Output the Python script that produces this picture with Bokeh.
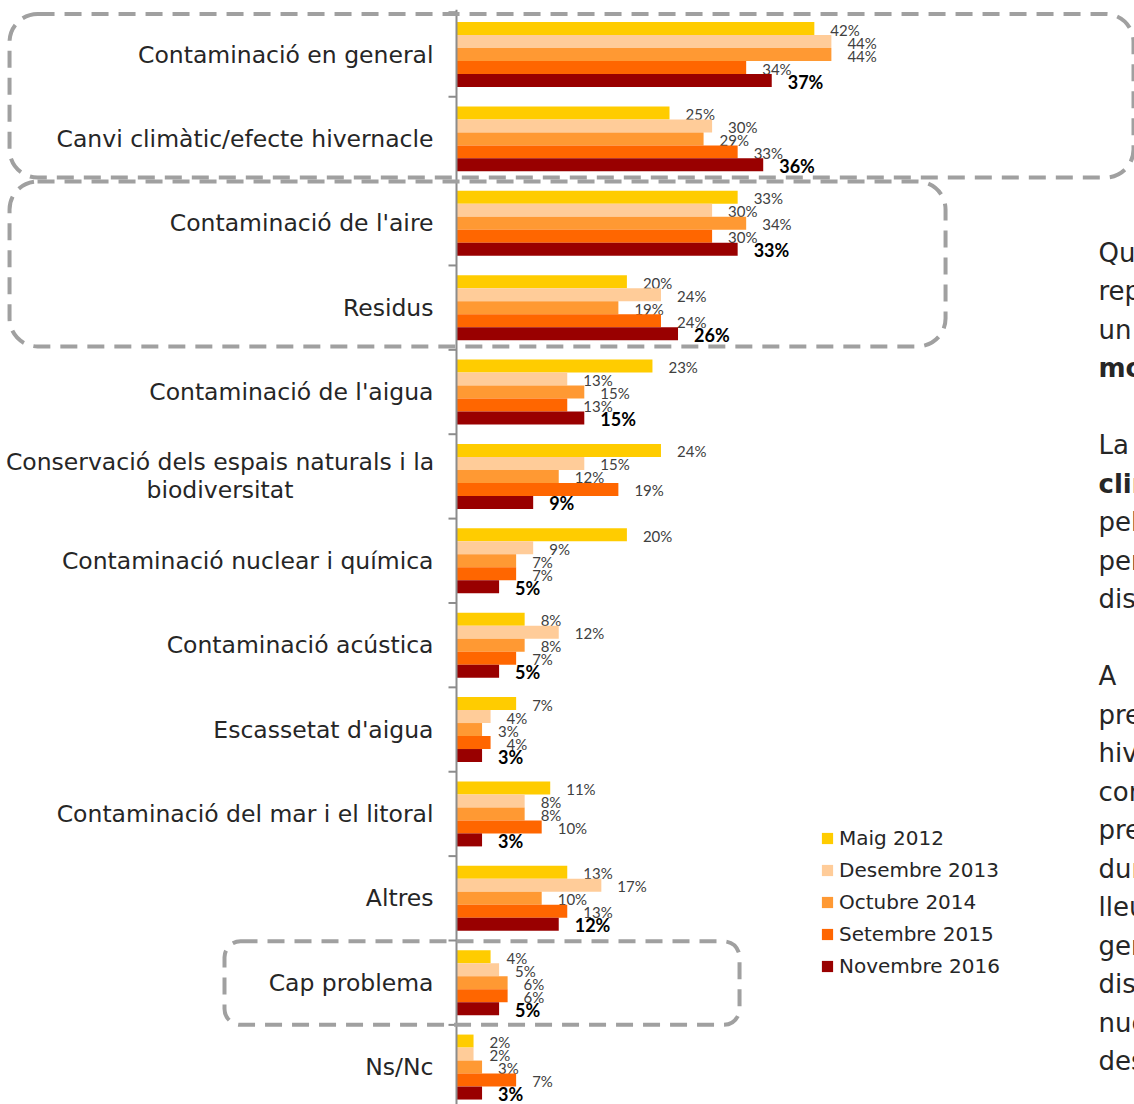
import numpy as np
from bokeh.plotting import figure
from bokeh.models import ColumnDataSource, Range1d, BoxAnnotation, Legend, LegendItem
from bokeh.transform import dodge
from bokeh.core.properties import value
from bokeh.embed import file_html
from bokeh.resources import INLINE

# ---------------- data ----------------
categories = [
    "Contaminació en general",
    "Canvi climàtic/efecte hivernacle",
    "Contaminació de l'aire",
    "Residus",
    "Contaminació de l'aigua",
    "Conservació dels espais naturals i la\nbiodiversitat",
    "Contaminació nuclear i química",
    "Contaminació acústica",
    "Escassetat d'aigua",
    "Contaminació del mar i el litoral",
    "Altres",
    "Cap problema",
    "Ns/Nc",
]
series = ["Maig 2012", "Desembre 2013", "Octubre 2014", "Setembre 2015", "Novembre 2016"]
maig_2012 = [42, 25, 33, 20, 23, 24, 20, 8, 7, 11, 13, 4, 2]
desembre_2013 = [44, 30, 30, 24, 13, 15, 9, 12, 4, 8, 17, 5, 2]
octubre_2014 = [44, 29, 34, 19, 15, 12, 7, 8, 3, 8, 10, 6, 3]
setembre_2015 = [34, 33, 30, 24, 13, 19, 7, 7, 4, 10, 13, 6, 7]
novembre_2016 = [37, 36, 33, 26, 15, 9, 5, 5, 3, 3, 12, 5, 3]
values_by_series = [maig_2012, desembre_2013, octubre_2014, setembre_2015, novembre_2016]
colors = ["#FFCC00", "#FFCC99", "#FF9933", "#FF6600", "#990000"]

# commentary text beside the chart (only its first letters are visible)
side_lines = ["Quan es pregunta", "representen", "un 37%", "molt", "",
              "La", "climàtic", "pel", "percentatge", "disminueix", "",
              "A", "preocupació", "hivernacle", "contaminació", "presenta", "durant",
              "lleugerament", "general", "disminueix", "nuclear", "des"]
side_bold = ["molt", "climàtic"]

# ---------------- geometry ----------------
FONT = "DejaVu Sans"
W, H = 1134, 1104
PX_PER_PCT = 8.52          # horizontal scale
PX_PER_CAT = 84.38         # vertical scale
AXIS_PX, FIRST_CAT_PX = 456, 54
n = len(categories)
x_start = -AXIS_PX / PX_PER_PCT
x_end = (W - AXIS_PX) / PX_PER_PCT
y_top = -FIRST_CAT_PX / PX_PER_CAT
y_bot = (H - FIRST_CAT_PX) / PX_PER_CAT

p = figure(width=W, height=H, output_backend="svg", toolbar_location=None,
           x_range=Range1d(x_start, x_end), y_range=Range1d(y_bot, y_top),
           x_axis_location=None, y_axis_location=None,
           min_border_left=0, min_border_right=0, min_border_top=0, min_border_bottom=0,
           outline_line_color=None, background_fill_color="white")
p.grid.visible = False

idx = np.arange(n)
bar_h = 0.154
offsets = [(k - 2) * bar_h for k in range(5)]

legend_items = []
for k, (name, vals, col) in enumerate(zip(series, values_by_series, colors)):
    src = ColumnDataSource(dict(y=idx, v=vals, lab=[f"{v}%" for v in vals]))
    r = p.hbar(y=dodge("y", offsets[k], range=p.y_range), left=0, right="v", height=bar_h,
               source=src, fill_color=col, line_color=None)
    legend_items.append(LegendItem(label=name, renderers=[r]))
    last = (k == 4)
    p.text(x="v", y=dodge("y", offsets[k] + 0.012, range=p.y_range), text="lab", source=src,
           x_offset=16, text_baseline="middle", text_align="left",
           text_font=value("Lato"),
           text_font_size="18px" if last else "15px",
           text_font_style="bold" if last else "normal",
           text_color="#000000" if last else "#404040")

# ---------------- category axis (line, boundary ticks, labels) ----------------
bounds = np.arange(n + 1) - 0.5
p.segment(x0=[0], y0=[bounds[0] - 0.03], x1=[0], y1=[bounds[-1]], line_color="#8c8c8c", line_width=2)
p.ray(x=np.zeros(n + 1), y=bounds, length=8, length_units="screen", angle=np.pi,
      line_color="#8c8c8c", line_width=2)

multi = ["\n" in c for c in categories]
cat_src = ColumnDataSource(dict(
    x=np.zeros(n), y=idx, t=categories,
    al=["center" if m else "right" for m in multi],
    xo=[-236.5 if m else -23 for m in multi]))
p.text(x="x", y="y", text="t", source=cat_src, text_align="al", x_offset="xo",
       text_baseline="middle", text_font=value(FONT), text_font_size="23.5px",
       text_color="#262626", text_line_height=1.0)

# ---------------- dashed highlight boxes ----------------
box_style = dict(fill_color=None, fill_alpha=0, line_color="#a0a0a0", line_alpha=1.0,
                 line_width=4, line_dash="17 10", level="overlay")
p.add_layout(BoxAnnotation(left=-52.46, right=79.46, top=-0.48, bottom=1.458,
                           border_radius=28, **box_style))
p.add_layout(BoxAnnotation(left=-52.46, right=57.4, top=1.505, bottom=3.46,
                           border_radius=28, **box_style))
p.add_layout(BoxAnnotation(left=-27.23, right=33.22, top=10.51, bottom=11.5,
                           border_radius=16, **box_style))

# ---------------- legend ----------------
legend = Legend(items=legend_items, location=(820, 126), orientation="vertical",
                border_line_color=None, background_fill_alpha=0, padding=0, margin=0,
                spacing=8, glyph_width=14, glyph_height=14, label_height=24,
                label_standoff=5, label_text_font=FONT, label_text_font_size="20px",
                label_text_color="#262626")
p.add_layout(legend)

# ---------------- side commentary (cut off at the right edge) ----------------
side_py = 252 + 38.5 * np.arange(len(side_lines))
side_src = ColumnDataSource(dict(
    x=[(1098 - AXIS_PX) / PX_PER_PCT] * len(side_lines),
    y=list((side_py - FIRST_CAT_PX) / PX_PER_CAT),
    t=side_lines,
    st=["bold" if s in side_bold else "normal" for s in side_lines]))
p.text(x="x", y="y", text="t", text_font_style="st", source=side_src,
       text_font=value(FONT), text_font_size="26px", text_color="#262626",
       text_baseline="middle", text_align="left")

open("out.html", "w").write(file_html(p, INLINE))
